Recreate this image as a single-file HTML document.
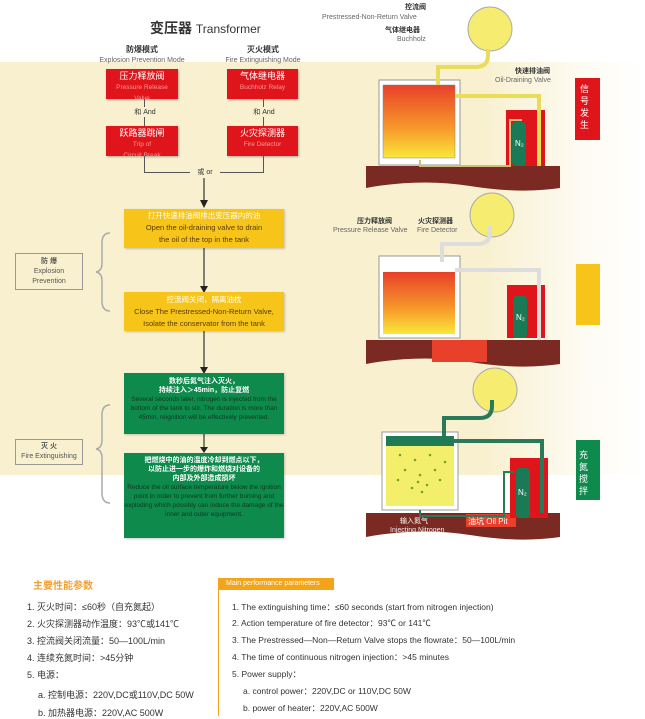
<!DOCTYPE html>
<html><head><meta charset="utf-8"><style>
*{margin:0;padding:0;box-sizing:border-box}
body{width:645px;height:719px;position:relative;background:#fff;font-family:"Liberation Sans","Noto Sans CJK SC",sans-serif;overflow:hidden;color:#333}
.a{position:absolute}
.bg{left:0;top:62px;width:645px;height:413px;background:linear-gradient(90deg,#f8f0cf 0%,#f8f0cf 75%,#fdfbf2 90%,#fff 100%)}
.rb{background:#e0151b;color:#fff;text-align:center;font-size:9px;line-height:10px;padding-top:2px;box-shadow:1px 1px 2px rgba(0,0,0,.3);overflow:hidden}
.rb span{color:#f29a9a;font-size:6.5px;line-height:8px}
.yb{background:#f7c51a;text-align:center;font-size:7.5px;line-height:12px;color:#5a3b00;box-shadow:1px 1px 2px rgba(0,0,0,.2)}
.yb b{color:#fff;font-weight:normal}
.gb{background:#0e8a4d;text-align:center;font-size:6.5px;line-height:9px;color:#0a3a1f;box-shadow:1px 1px 2px rgba(0,0,0,.2);overflow:hidden}
.gb b{color:#fff;font-weight:bold;font-size:7px}
.ln{background:#555}
.lab{border:1px solid #999;text-align:center;font-size:7px;line-height:10px;color:#555}
.p{font-size:9px;color:#333;white-space:nowrap}
.q{font-size:8.5px;color:#333;white-space:nowrap}
</style></head><body>
<div class="a bg"></div>
<div class="a" style="left:150px;top:18px;font-size:14px;color:#333"><b>变压器</b> <span style="font-size:12px">Transformer</span></div>
<div class="a" style="left:92px;top:45px;width:100px;text-align:center;font-size:8px;line-height:10px"><b>防爆模式</b><br><span style="color:#666;font-size:7px">Explosion Prevention Mode</span></div>
<div class="a" style="left:213px;top:45px;width:100px;text-align:center;font-size:8px;line-height:10px"><b>灭火模式</b><br><span style="color:#666;font-size:7px">Fire Extinguishing Mode</span></div>
<div class="a rb" style="left:106px;top:69px;width:72px;height:30px">压力释放阀<br><span>Pressure Release<br>Valve</span></div>
<div class="a rb" style="left:227px;top:69px;width:71px;height:30px">气体继电器<br><span>Buchholz Relay</span></div>
<div class="a rb" style="left:106px;top:126px;width:72px;height:30px">跃路器跳闸<br><span>Trip of<br>Circuit Break</span></div>
<div class="a rb" style="left:227px;top:126px;width:71px;height:30px">火灾探测器<br><span>Fire Detector</span></div>
<div class="a ln" style="left:144px;top:99px;width:1px;height:27px"></div>
<div class="a ln" style="left:263px;top:99px;width:1px;height:27px"></div>
<div class="a" style="left:130px;top:107px;width:30px;font-size:7px;background:#f8f0cf;text-align:center">和 And</div>
<div class="a" style="left:249px;top:107px;width:30px;font-size:7px;background:#f8f0cf;text-align:center">和 And</div>
<div class="a ln" style="left:144px;top:156px;width:1px;height:17px"></div>
<div class="a ln" style="left:263px;top:156px;width:1px;height:17px"></div>
<div class="a ln" style="left:144px;top:172px;width:120px;height:1px"></div>
<div class="a" style="left:190px;top:167px;width:30px;font-size:7px;background:#f8f0cf;text-align:center">或 or</div>
<svg class="a" style="left:0;top:0" width="645" height="560">
<g stroke="#333" stroke-width="1.2"><line x1="204" y1="178" x2="204" y2="205"/><line x1="204" y1="248" x2="204" y2="289"/><line x1="204" y1="331" x2="204" y2="370"/><line x1="204" y1="434" x2="204" y2="450"/></g>
<g fill="#222"><path d="M200 200h8l-4 8z"/><path d="M200 286h8l-4 7z"/><path d="M200 367h8l-4 7z"/><path d="M200 447h8l-4 6z"/></g>
<g fill="none" stroke="#aaa" stroke-width="1.5"><path d="M110 233q-8 0-8 10v20q0 8-6 9q6 1 6 9v20q0 10 8 10"/><path d="M110 405q-8 0-8 10v25q0 8-6 9q6 1 6 9v35q0 10 8 10"/></g>
<defs><linearGradient id="og" x1="0" y1="0" x2="0" y2="1"><stop offset="0" stop-color="#e8402a"/><stop offset=".6" stop-color="#f79a2a"/><stop offset="1" stop-color="#fbe83a"/></linearGradient></defs>
<path d="M366 166h194v22q-40 6-90-2t-104 2z" fill="#7a2a22"/>
<rect x="379" y="80" width="81" height="85" fill="#fff" stroke="#999"/>
<rect x="383" y="85" width="72" height="73" fill="url(#og)" stroke="#888" stroke-width=".5"/>
<rect x="506" y="110" width="39" height="56" fill="#e0151b"/>
<rect x="512" y="122" width="14" height="44" rx="4" fill="#1a7a55"/><text x="515" y="146" font-size="8" fill="#fff">N₂</text>
<circle cx="490" cy="29" r="22" fill="#f6ec70" stroke="#aaa"/>
<g fill="none" stroke="#e8dc5a" stroke-width="4"><path d="M438 85v-18h38q12 0 12-12v-6"/><path d="M455 96h84v70"/></g>
<path d="M420 160v6h90v-46h12" fill="none" stroke="#cbbf7a" stroke-width="2"/>
<rect x="575" y="78" width="25" height="62" fill="#e0151b"/><text x="580" y="92" font-size="9" fill="#fff">信</text><text x="580" y="104" font-size="9" fill="#fff">号</text><text x="580" y="116" font-size="9" fill="#fff">发</text><text x="580" y="128" font-size="9" fill="#fff">生</text>
<path d="M366 340h194v24q-40 6-90-2t-104 2z" fill="#7a2a22"/>
<rect x="432" y="340" width="55" height="22" fill="#e8402a"/>
<rect x="379" y="256" width="81" height="82" fill="#fff" stroke="#999"/>
<rect x="383" y="272" width="72" height="62" fill="url(#og)"/>
<rect x="507" y="285" width="38" height="53" fill="#e0151b"/>
<rect x="513" y="296" width="14" height="42" rx="4" fill="#1a7a55"/><text x="516" y="320" font-size="8" fill="#fff">N₂</text>
<circle cx="492" cy="215" r="22" fill="#f6ec70" stroke="#aaa"/>
<g fill="none" stroke="#ddd" stroke-width="4"><path d="M442 262v-18h36q12 0 12-12v-6"/><path d="M455 270h84v70"/></g>
<rect x="576" y="264" width="24" height="61" fill="#f7c51a"/>
<path d="M366 513h194v24q-40 6-90-2t-104 2z" fill="#7a2a22"/>
<rect x="466" y="514" width="50" height="13" fill="#e8402a"/><text x="468" y="524" font-size="8" fill="#fff">油坑 Oil Pit</text>
<rect x="382" y="432" width="76" height="78" fill="#fff" stroke="#999"/>
<rect x="386" y="436" width="68" height="70" fill="#f3ef6a"/>
<rect x="386" y="436" width="68" height="10" fill="#1f7a55"/>
<g fill="#7aa030"><circle cx="400" cy="455" r="1.3"/><circle cx="415" cy="460" r="1.3"/><circle cx="430" cy="455" r="1.3"/><circle cx="445" cy="462" r="1.3"/><circle cx="405" cy="470" r="1.3"/><circle cx="420" cy="475" r="1.3"/><circle cx="435" cy="470" r="1.3"/><circle cx="412" cy="488" r="1.3"/><circle cx="422" cy="492" r="1.3"/><circle cx="418" cy="482" r="1.3"/><circle cx="427" cy="485" r="1.3"/><circle cx="440" cy="480" r="1.3"/><circle cx="398" cy="480" r="1.3"/></g>
<rect x="510" y="458" width="38" height="60" fill="#e0151b"/>
<rect x="516" y="468" width="14" height="50" rx="4" fill="#1a7a55"/><text x="518" y="495" font-size="8" fill="#fff">N₂</text>
<circle cx="495" cy="390" r="22" fill="#f6ec70" stroke="#aaa"/>
<g fill="none" stroke="#2a7a5a" stroke-width="4"><path d="M444 436v-18h36q12 0 12-12v-6"/><path d="M454 441h88v72"/><path d="M420 510v6h84v-44h10" stroke-width="2"/></g>
<text x="400" y="523" font-size="7" fill="#fff">输入氮气</text><text x="390" y="532" font-size="7" fill="#eee">Injecting Nitrogen</text>
<rect x="576" y="440" width="24" height="60" fill="#0e8a4d"/><text x="579" y="458" font-size="9" fill="#fff">充</text><text x="579" y="470" font-size="9" fill="#fff">氮</text><text x="579" y="482" font-size="9" fill="#fff">搅</text><text x="579" y="494" font-size="9" fill="#fff">拌</text>
<g font-size="7" fill="#333"><text x="405" y="9" font-weight="bold">控流阀</text><text x="322" y="19" fill="#666">Prestressed-Non-Return Valve</text><text x="385" y="32" font-weight="bold">气体继电器</text><text x="397" y="41" fill="#666">Buchholz</text>
<text x="515" y="73" font-weight="bold">快速排油阀</text><text x="495" y="82" fill="#666">Oil-Draining Valve</text>
<text x="357" y="223" font-weight="bold">压力释放阀</text><text x="333" y="232" fill="#666">Pressure Release Valve</text><text x="418" y="223" font-weight="bold">火灾探测器</text><text x="417" y="232" fill="#666">Fire Detector</text></g>
</svg>
<div class="a yb" style="left:124px;top:209px;width:160px;height:39px;padding-top:1px"><b>打开快速排油阀排出变压器内的油</b><br>Open the oil-draining valve to drain<br>the oil of the top in the tank</div>
<div class="a yb" style="left:124px;top:292px;width:160px;height:39px;padding-top:2px"><b>控流阀关闭，隔离油枕</b><br>Close The Prestressed-Non-Return Valve,<br>Isolate the conservator from the tank</div>
<div class="a gb" style="left:124px;top:373px;width:160px;height:61px;padding-top:4px"><b>数秒后氮气注入灭火，<br>持续注入＞45min，防止复燃</b><br>Several seconds later, nitrogen is injected from the bottom of the tank to stir. The duration is more than 45min, reignition will be effectively prevented.</div>
<div class="a gb" style="left:124px;top:453px;width:160px;height:85px;padding-top:3px"><b>把燃烧中的油的温度冷却到燃点以下，<br>以防止进一步的爆炸和燃烧对设备的<br>内部及外部造成损坏</b><br>Reduce the oil surface temperature below the ignition point in order to prevent from further burning and exploding which possibly can induce the damage of the inner and outer equipment.</div>
<div class="a lab" style="left:15px;top:253px;width:68px;height:37px;padding-top:3px"><b>防 爆</b><br>Explosion<br>Prevention</div>
<div class="a lab" style="left:15px;top:439px;width:68px;height:26px;padding-top:2px"><b>灭 火</b><br>Fire Extinguishing</div>
<div class="a" style="left:33px;top:577px;font-size:10px;color:#f0a030;font-weight:bold">主要性能参数</div>
<div class="a p" style="left:27px;top:600px">1. 灭火时间：≤60秒（自充氮起）</div>
<div class="a p" style="left:27px;top:617px">2. 火灾探测器动作温度：93℃或141℃</div>
<div class="a p" style="left:27px;top:634px">3. 控流阀关闭流量：50—100L/min</div>
<div class="a p" style="left:27px;top:651px">4. 连续充氮时间：>45分钟</div>
<div class="a p" style="left:27px;top:668px">5. 电源：</div>
<div class="a p" style="left:38px;top:688px">a. 控制电源：220V,DC或110V,DC 50W</div>
<div class="a p" style="left:38px;top:706px">b. 加热器电源：220V,AC 500W</div>
<div class="a" style="left:218px;top:578px;width:116px;height:12px;background:#f3a41b;color:#fff;font-size:7px;line-height:12px;padding-left:8px;white-space:nowrap;overflow:hidden">Main performance parameters</div>
<div class="a" style="left:218px;top:578px;width:1px;height:138px;background:#f3a41b"></div>
<div class="a q" style="left:232px;top:601px">1. The extinguishing time：≤60 seconds (start from nitrogen injection)</div>
<div class="a q" style="left:232px;top:617px">2. Action temperature of fire detector：93℃ or 141℃</div>
<div class="a q" style="left:232px;top:634px">3. The Prestressed—Non—Return Valve stops the flowrate：50—100L/min</div>
<div class="a q" style="left:232px;top:651px">4. The time of continuous nitrogen injection：>45 minutes</div>
<div class="a q" style="left:232px;top:668px">5. Power supply：</div>
<div class="a q" style="left:243px;top:685px">a. control power：220V,DC or 110V,DC 50W</div>
<div class="a q" style="left:243px;top:702px">b. power of heater：220V,AC 500W</div>
</body></html>
